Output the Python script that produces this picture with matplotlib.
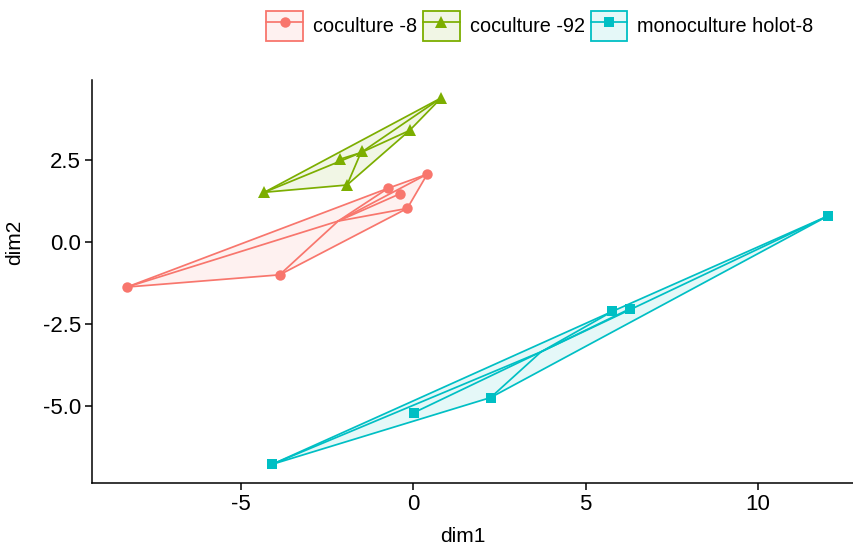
import numpy as np
import matplotlib
matplotlib.use("Agg")
import matplotlib.pyplot as plt
from matplotlib.patches import Patch, Polygon
from matplotlib.lines import Line2D
from matplotlib.legend_handler import HandlerTuple

plt.rcParams['font.family'] = ['Liberation Sans', 'DejaVu Sans']
plt.rcParams['axes.unicode_minus'] = False

# ---- data ----
groups = ["coculture -8", "coculture -92", "monoculture holot-8"]
colors = ["#F8766D", "#7CAE00", "#00BFC4"]
markers = ["o", "^", "s"]

cocult8_dim1 = [-8.32, -3.89, -0.74, -0.40, 0.40, -0.18]
cocult8_dim2 = [-1.37, -1.00, 1.63, 1.46, 2.06, 1.02]

cocult92_dim1 = [-4.33, -1.93, -2.12, -1.49, -0.11, 0.81]
cocult92_dim2 = [1.51, 1.73, 2.52, 2.75, 3.39, 4.38]

mono8_dim1 = [-4.11, 0.01, 2.24, 5.78, 6.29, 12.04]
mono8_dim2 = [-6.76, -5.19, -4.73, -2.11, -2.03, 0.79]

xticks = [-5, 0, 5, 10]
yticks = [-5.0, -2.5, 0.0, 2.5]

data = [(cocult8_dim1, cocult8_dim2), (cocult92_dim1, cocult92_dim2), (mono8_dim1, mono8_dim2)]


def convex_hull(pts):
    pts = sorted(set(pts))
    if len(pts) <= 2:
        return pts

    def cross(o, a, b):
        return (a[0] - o[0]) * (b[1] - o[1]) - (a[1] - o[1]) * (b[0] - o[0])
    lower = []
    for p in pts:
        while len(lower) >= 2 and cross(lower[-2], lower[-1], p) <= 0:
            lower.pop()
        lower.append(p)
    upper = []
    for p in reversed(pts):
        while len(upper) >= 2 and cross(upper[-2], upper[-1], p) <= 0:
            upper.pop()
        upper.append(p)
    return lower[:-1] + upper[:-1]


FS = 15
W, H = 854, 547
fig = plt.figure(figsize=(W / 100, H / 100), dpi=100)
left_px, right_px, top_px, bot_px = 92, 863, 79.5, 482.7
ax = fig.add_axes([left_px / W, 1 - bot_px / H, (right_px - left_px) / W, (bot_px - top_px) / H])

msize = {'o': 7.5, '^': 8.5, 's': 7.0}
for (xs, ys), col, mk in zip(data, colors, markers):
    pts = list(zip(xs, ys))
    hull = convex_hull(pts)
    ax.add_patch(Polygon(hull, closed=True, facecolor=col, alpha=0.1, edgecolor='none', zorder=1))
    ax.add_patch(Polygon(hull, closed=True, facecolor='none', edgecolor=col, lw=1.25, zorder=2))
    cx, cy = np.mean(xs), np.mean(ys)
    for x, y in pts:
        ax.plot([cx, x], [cy, y], color=col, lw=1.25, zorder=2, solid_capstyle='round')
    ax.plot(xs, ys, linestyle='none', marker=mk, color=col, markersize=msize[mk], zorder=3,
            markeredgewidth=0)

allx = cocult8_dim1 + cocult92_dim1 + mono8_dim1
ally = cocult8_dim2 + cocult92_dim2 + mono8_dim2
rx = max(allx) - min(allx)
ry = max(ally) - min(ally)
ax.set_xlim(min(allx) - 0.05 * rx, max(allx) + 0.05 * rx)
ax.set_ylim(min(ally) - 0.05 * ry, max(ally) + 0.05 * ry)

ax.set_xticks(xticks)
ax.set_xticklabels([f"{v:d}" for v in xticks])
ax.set_yticks(yticks)
ax.set_yticklabels([f"{v:.1f}" for v in yticks])

for s in ['top', 'right']:
    ax.spines[s].set_visible(False)
for s in ['left', 'bottom']:
    ax.spines[s].set_linewidth(1.1)
    ax.spines[s].set_color('black')
ax.tick_params(axis='both', direction='out', length=5, width=1.1, colors='black',
               labelsize=16, pad=3)
ax.set_xlabel("dim1", fontsize=FS)
ax.set_ylabel("dim2", fontsize=FS)
ax.xaxis.set_label_coords((463 - left_px) / (right_px - left_px), -(536 - bot_px) / (bot_px - top_px),
                          transform=ax.transAxes)
ax.xaxis.label.set_va('center')
ax.yaxis.set_label_coords(-(left_px - 15) / (right_px - left_px), (bot_px - 242) / (bot_px - top_px),
                          transform=ax.transAxes)
ax.yaxis.label.set_va('center')

handles = []
for col, mk in zip(colors, markers):
    box = Patch(facecolor=matplotlib.colors.to_rgba(col, 0.1), edgecolor=col, lw=1.3)
    ln = Line2D([], [], color=col, lw=1.25, marker=mk, markersize=msize[mk],
                markeredgewidth=0)
    handles.append((box, ln))
fig.legend(handles, groups, handler_map={tuple: HandlerTuple(ndivide=1, pad=0)},
           loc='center', bbox_to_anchor=(540 / W, 1 - 26 / H), ncol=3, frameon=False,
           fontsize=14.3, handlelength=1.85, handleheight=1.95, handletextpad=0.5,
           columnspacing=0.3)

fig.savefig("out.png", dpi=100)
